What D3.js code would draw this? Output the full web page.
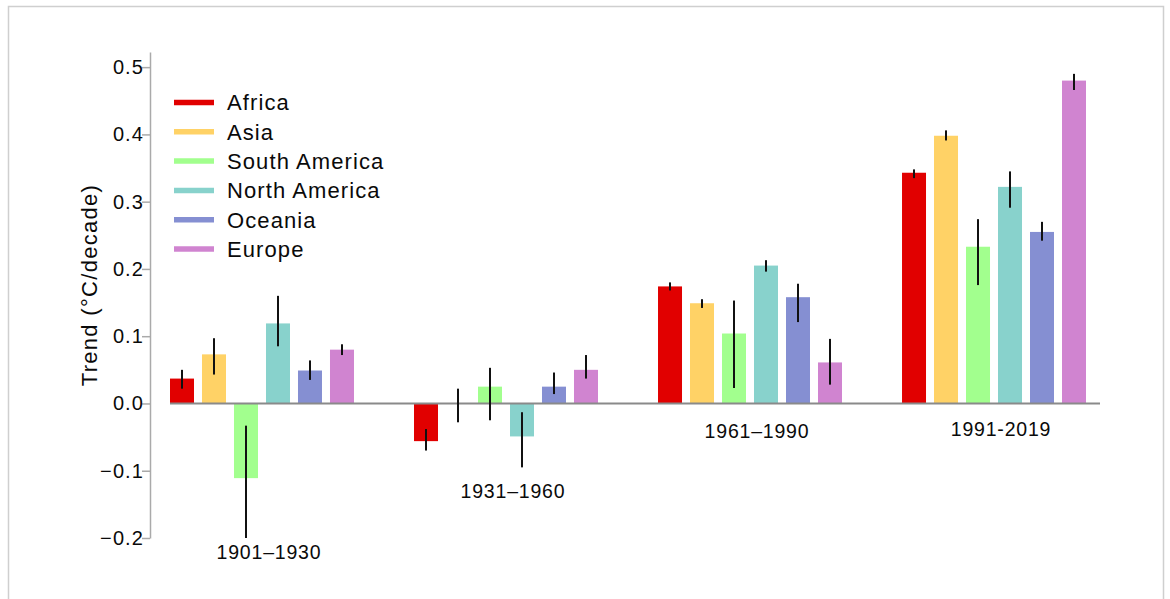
<!DOCTYPE html>
<html lang="en">
<head>
<meta charset="utf-8">
<title>Regional warming trends</title>
<script src="https://cdn.jsdelivr.net/npm/d3@7"></script>
<style>
  body { margin: 0; background: #fff; }
  text { font-family: "Liberation Sans", Arial, sans-serif; fill: #0a0a0a; }
</style>
</head>
<body>
<script>
// data
var periods = ["1901\u20131930", "1931\u20131960", "1961\u20131990", "1991-2019"];
var regions = ["Africa", "Asia", "South America", "North America", "Oceania", "Europe"];
var colors  = ["#e10000", "#ffd266", "#a2ff8e", "#88d2cc", "#858fd2", "#d084d0"];

// trend per period, one array per region (°C/decade)
var africa   = [0.037, -0.056, 0.174, 0.343];
var asia     = [0.073,  0.000, 0.149, 0.398];
var southAm  = [-0.111, 0.025, 0.104, 0.233];
var northAm  = [0.119, -0.049, 0.205, 0.322];
var oceania  = [0.049,  0.025, 0.158, 0.255];
var europe   = [0.080,  0.050, 0.061, 0.480];

// error bar ends (low / high)
var africaLo  = [0.022, -0.070, 0.168, 0.335], africaHi  = [0.050, -0.038, 0.180, 0.348];
var asiaLo    = [0.043, -0.028, 0.142, 0.391], asiaHi    = [0.097,  0.022, 0.155, 0.406];
var southAmLo = [-0.200, -0.025, 0.023, 0.176], southAmHi = [-0.033, 0.053, 0.153, 0.274];
var northAmLo = [0.085, -0.095, 0.196, 0.291], northAmHi = [0.160, -0.013, 0.213, 0.345];
var oceaniaLo = [0.035,  0.014, 0.121, 0.242], oceaniaHi = [0.064,  0.046, 0.178, 0.270];
var europeLo  = [0.072,  0.037, 0.028, 0.466], europeHi  = [0.088,  0.072, 0.096, 0.490];

var yTicks = [-0.2, -0.1, 0.0, 0.1, 0.2, 0.3, 0.4, 0.5];

var values = [africa, asia, southAm, northAm, oceania, europe];
var lows   = [africaLo, asiaLo, southAmLo, northAmLo, oceaniaLo, europeLo];
var highs  = [africaHi, asiaHi, southAmHi, northAmHi, oceaniaHi, europeHi];

var rows = [];
periods.forEach(function(p, i) {
    regions.forEach(function(r, j) {
        rows.push({period: p, region: r, color: colors[j],
                   v: values[j][i], lo: lows[j][i], hi: highs[j][i]});
    });
});

var W = 1170, H = 599;
var svg = d3.select("body").append("svg")
    .attr("width", W).attr("height", H);

// outer frame
svg.append("rect")
    .attr("x", 8.5).attr("y", 6.5)
    .attr("width", 1155).attr("height", 620)
    .attr("fill", "none").attr("stroke", "#cfcfcf").attr("stroke-width", 1.5);

var y = d3.scaleLinear().domain([-0.2, 0.5225]).range([538, 52]);
var x0 = d3.scaleBand().domain(periods).range([170, 1086]).paddingInner(0.246);
var x1 = d3.scaleBand().domain(regions).range([0, x0.bandwidth()]).paddingInner(0.25);

// y axis
var yAxis = d3.axisLeft(y).tickValues(yTicks).tickFormat(d3.format(".1f"))
    .tickSize(8).tickSizeOuter(0).tickPadding(0);
var ga = svg.append("g").attr("transform", "translate(150,0)").call(yAxis);
ga.select(".domain").attr("stroke", "#aaa").attr("stroke-width", 1.5);
ga.selectAll(".tick line").attr("stroke", "#aaa").attr("stroke-width", 1.5);
ga.selectAll(".tick text")
    .attr("x", -6)
    .style("font-family", "'Liberation Sans', Arial, sans-serif")
    .style("font-size", "20px")
    .style("letter-spacing", "1.1px")
    .attr("fill", "#0a0a0a");

svg.append("text")
    .attr("transform", "translate(97,285) rotate(-90)")
    .attr("text-anchor", "middle")
    .style("font-size", "22px")
    .style("letter-spacing", "1.3px")
    .text("Trend (\u00B0C/decade)");

// bars
svg.selectAll("rect.bar")
    .data(rows).enter().append("rect")
    .attr("class", "bar")
    .attr("x", function(d) { return x0(d.period) + x1(d.region); })
    .attr("y", function(d) { return y(Math.max(0, d.v)); })
    .attr("width", x1.bandwidth())
    .attr("height", function(d) { return Math.abs(y(d.v) - y(0)); })
    .attr("fill", function(d) { return d.color; });

// zero line
svg.append("line")
    .attr("x1", 170).attr("x2", 1100)
    .attr("y1", y(0)).attr("y2", y(0))
    .attr("stroke", "#8a8a8a").attr("stroke-width", 2);

// error bars
svg.selectAll("line.err")
    .data(rows).enter().append("line")
    .attr("class", "err")
    .attr("x1", function(d) { return x0(d.period) + x1(d.region) + x1.bandwidth() / 2; })
    .attr("x2", function(d) { return x0(d.period) + x1(d.region) + x1.bandwidth() / 2; })
    .attr("y1", function(d) { return y(d.lo); })
    .attr("y2", function(d) { return y(d.hi); })
    .attr("stroke", "#111").attr("stroke-width", 2);

// period labels, placed under the lowest whisker of each group
var labelGap = [14, 24, 28, 26];
periods.forEach(function(p, i) {
    var minLo = d3.min(rows.filter(function(d) { return d.period === p; }),
                       function(d) { return Math.min(0, d.lo); });
    svg.append("text")
        .attr("x", x0(p) + x0.bandwidth() / 2 + 7)
        .attr("y", y(minLo) + labelGap[i])
        .attr("dy", "0.35em")
        .attr("text-anchor", "middle")
        .style("font-size", "19.5px")
        .style("letter-spacing", "0.8px")
        .text(p);
});

// legend
var lg = svg.append("g").attr("transform", "translate(174,102.5)");
var li = lg.selectAll("g").data(regions).enter().append("g")
    .attr("transform", function(d, i) { return "translate(0," + (i * 29.3) + ")"; });
li.append("line")
    .attr("x1", 0).attr("x2", 40).attr("y1", 0).attr("y2", 0)
    .attr("stroke", function(d, i) { return colors[i]; })
    .attr("stroke-width", 5.5);
li.append("text")
    .attr("x", 53).attr("dy", "0.36em")
    .style("font-size", "22px")
    .style("letter-spacing", "1.1px")
    .text(function(d) { return d; });
</script>
</body>
</html>
